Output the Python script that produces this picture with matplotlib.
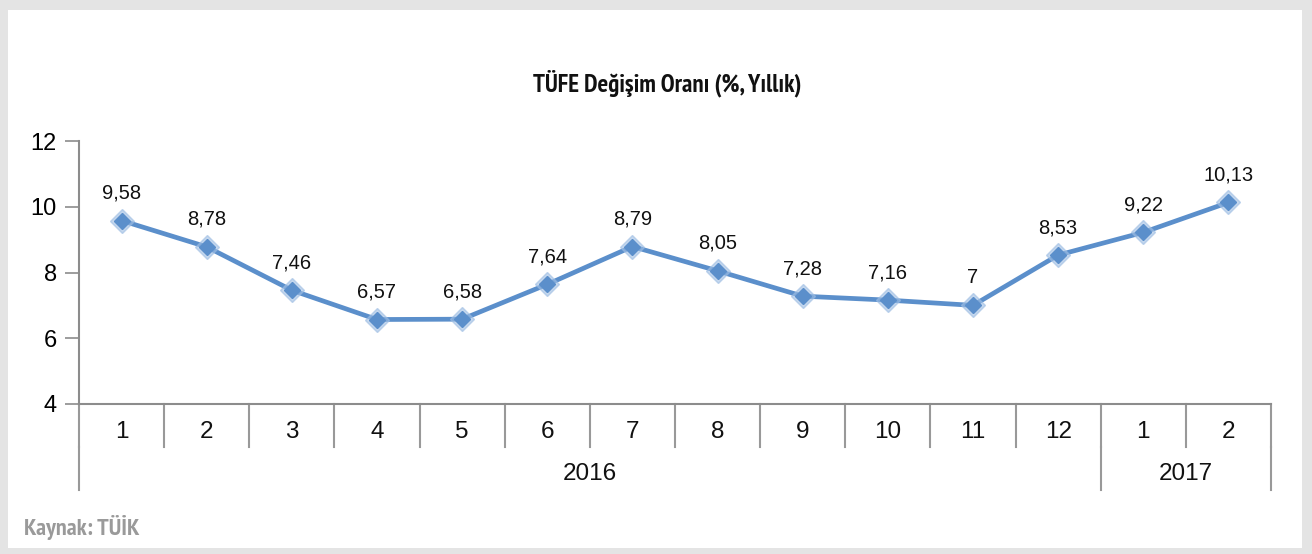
import matplotlib
matplotlib.use("Agg")
import matplotlib.pyplot as plt
from matplotlib.patches import Rectangle
from matplotlib import font_manager
from matplotlib.font_manager import FontProperties

# -------------------------
# Data
# -------------------------
months = ["1", "2", "3", "4", "5", "6", "7", "8", "9", "10", "11", "12", "1", "2"]
tufe = [9.58, 8.78, 7.46, 6.57, 6.58, 7.64, 8.79, 8.05, 7.28, 7.16, 7.00, 8.53, 9.22, 10.13]
value_labels = ["9,58", "8,78", "7,46", "6,57", "6,58", "7,64", "8,79", "8,05",
                "7,28", "7,16", "7", "8,53", "9,22", "10,13"]
years = ["2016", "2017"]
year_counts = [12, 2]

title = "TÜFE Değişim Oranı (%, Yıllık)"
source = "Kaynak: TÜİK"


def narrow_bold(size):
    """Bold narrow font for title/source (Liberation Sans Narrow preferred)."""
    fonts = font_manager.fontManager.ttflist
    is_bold = lambda f: f.weight in ("bold", 700, "700")
    for f in fonts:
        if "Narrow" in f.fname and is_bold(f) and "Italic" not in f.fname:
            return FontProperties(fname=f.fname, size=size)
    for f in fonts:
        cond = "Condensed" in f.fname or f.stretch in ("condensed", "semi-condensed")
        if cond and is_bold(f) and "Oblique" not in f.fname and "Italic" not in f.fname:
            return FontProperties(fname=f.fname, size=size * 0.8)
    return FontProperties(family="Roboto", weight="bold", size=size * 0.8)


body = "Liberation Sans"

W, H = 1312, 554
fig = plt.figure(figsize=(W / 100, H / 100), dpi=100)
fig.patch.set_facecolor("#e4e4e4")
fig.add_artist(Rectangle((8 / W, 6 / H), (1302 - 8) / W, (544 - 6) / H,
                         transform=fig.transFigure, facecolor="white",
                         edgecolor="none", zorder=0))

ax = fig.add_axes([79 / W, (H - 404) / H, (1271 - 79) / W, (404 - 141) / H])
ax.set_facecolor("none")

line_col = "#5b8fcb"
x = list(range(len(tufe)))
ax.plot(x, tufe, color=line_col, lw=3.4, zorder=3, solid_capstyle="round")
ax.plot(x, tufe, ls="none", marker="D", ms=12, color="#9dbde3", alpha=0.6, zorder=4)
ax.plot(x, tufe, ls="none", marker="D", ms=8.5, color=line_col, zorder=5)

for xi, v, lab in zip(x, tufe, value_labels):
    ax.annotate(lab, (xi, v), xytext=(0, 13), textcoords="offset points",
                ha="center", va="bottom", fontsize=14.5, family=body, color="#111111")

ax.set_xlim(-0.5, len(tufe) - 0.5)
ax.set_ylim(4, 12)
ax.set_yticks([4, 6, 8, 10, 12])
ax.tick_params(axis="y", length=10, width=1.2, color="#8c8c8c", labelsize=17, pad=6)
for t in ax.get_yticklabels():
    t.set_family(body)
ax.set_xticks([])
for s in ["top", "right"]:
    ax.spines[s].set_visible(False)
for s in ["left", "bottom"]:
    ax.spines[s].set_color("#8c8c8c")
    ax.spines[s].set_linewidth(1.5)

# hierarchical category axis
tr = ax.get_xaxis_transform()
px = 1 / (404 - 141)  # one pixel in axes units
row = 43 * px
gray = "#999999"
for i in range(len(months) + 1):
    ax.plot([i - 0.5, i - 0.5], [0, -row], transform=tr, color=gray, lw=1.5, clip_on=False)
for i, m in enumerate(months):
    ax.text(i, -28 * px, m, transform=tr, ha="center", va="center",
            fontsize=17.5, family=body, color="#111111")
start = 0
bounds = [0]
for y, n in zip(years, year_counts):
    ax.text(start + n / 2 - 0.5, -70 * px, y, transform=tr, ha="center", va="center",
            fontsize=17.5, family=body, color="#111111")
    start += n
    bounds.append(start)
for b in bounds:
    ax.plot([b - 0.5, b - 0.5], [-row, -2 * row], transform=tr, color=gray, lw=1.5, clip_on=False)

fig.text(667 / W, (H - 83) / H, title, ha="center", va="center",
         fontproperties=narrow_bold(18), color="#111111")
fig.text(24 / W, (H - 527) / H, source, ha="left", va="center",
         fontproperties=narrow_bold(17.5), color="#9a9a9a")

fig.savefig("out.png", dpi=100, facecolor=fig.get_facecolor())
